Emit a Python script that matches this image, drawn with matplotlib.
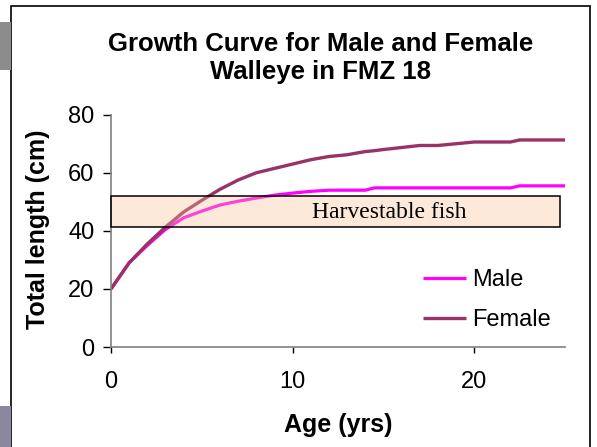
#!/usr/bin/env python3
import matplotlib
matplotlib.use('Agg')
import matplotlib.pyplot as plt
from matplotlib.patches import Rectangle

# Growth curve data
ages = [0, 1, 2, 3, 4, 5, 6, 7, 8, 9, 10, 11, 12, 13, 14, 14.5, 15, 16, 17,
        18, 19, 20, 21, 22, 22.5, 23, 24, 25]
male = [20, 29, 35, 40.5, 44.5, 46.8, 48.9, 50.2, 51.3, 52.3, 53, 53.6, 54,
        54, 54, 54.8, 54.8, 54.8, 54.8, 54.8, 54.8, 54.8, 54.8, 54.8, 55.5,
        55.5, 55.5, 55.5]
female = [20, 29, 35.5, 41.3, 46.5, 50.5, 54.3, 57.5, 60, 61.5, 63, 64.5,
          65.6, 66.2, 67.3, 67.6, 68, 68.7, 69.4, 69.4, 70, 70.6, 70.6, 70.6,
          71.3, 71.3, 71.3, 71.3]

harvest_low, harvest_high = 41.2, 52.0
harvest_end = 24.7

plt.rcParams['font.family'] = ['Liberation Sans', 'DejaVu Sans']

W, H = 597, 447
fig = plt.figure(figsize=(W / 100, H / 100), dpi=100)

# slide decorations: outer frame and gray tabs at the left edge
fig.patches.append(Rectangle((11 / W, -0.05), (590 - 11) / W, 1.05 - 6 / H,
                             transform=fig.transFigure, fill=False,
                             edgecolor='black', linewidth=1.2))
fig.patches.append(Rectangle((0, 1 - 70 / H), 11 / W, 48 / H,
                             transform=fig.transFigure, facecolor='#8c8c8c',
                             edgecolor='none'))
fig.patches.append(Rectangle((0, 0), 11 / W, 41 / H,
                             transform=fig.transFigure, facecolor='#8a879f',
                             edgecolor='none'))

ax = fig.add_axes([111 / W, 1 - 347 / H, (565 - 111) / W, (347 - 114.7) / H])

ax.plot(ages, male, color='#ff00ff', linewidth=2.3, label='Male',
        solid_capstyle='butt')
ax.plot(ages, female, color='#993366', linewidth=2.4, label='Female',
        solid_capstyle='butt')

# harvestable band drawn over the curves
ax.add_patch(Rectangle((0, harvest_low), harvest_end, harvest_high - harvest_low,
                       facecolor=(249 / 255, 192 / 255, 146 / 255, 0.35),
                       edgecolor='black', linewidth=1.1, zorder=3,
                       clip_on=False))
ax.text(15.3, 46.3, 'Harvestable fish', family='Liberation Serif',
        fontsize=17, ha='center', va='center', zorder=4)

ax.set_xlim(0, 25)
ax.set_ylim(0, 80)
ax.set_xticks([0, 10, 20])
ax.set_yticks([0, 20, 40, 60, 80])

for s in ['top', 'right']:
    ax.spines[s].set_visible(False)
for s in ['left', 'bottom']:
    ax.spines[s].set_color('#808080')
    ax.spines[s].set_linewidth(1.2)

ax.tick_params(axis='y', direction='out', length=6, width=1, colors='black',
               labelsize=17, pad=6)
ax.tick_params(axis='x', direction='out', length=4.5, width=1, colors='black',
               labelsize=17, pad=13)

ax.set_xlabel('Age (yrs)', fontsize=18, fontweight='bold', labelpad=14)
fig.text(38 / W, 1 - 229 / H, 'Total length (cm)', fontsize=18,
         fontweight='bold', rotation=90, ha='center', va='center')

fig.text(321 / W, 1 - 58 / H,
         'Growth Curve for Male and Female\nWalleye in FMZ 18',
         fontsize=18.5, fontweight='bold', ha='center', va='center',
         linespacing=1.2)

ax.legend(loc='center left', bbox_to_anchor=(423 / W, 1 - 300 / H),
          bbox_transform=fig.transFigure, frameon=False, fontsize=17,
          handlelength=1.8, handletextpad=0.3, labelspacing=0.75,
          borderpad=0, borderaxespad=0)

plt.savefig('out.png', dpi=100)
